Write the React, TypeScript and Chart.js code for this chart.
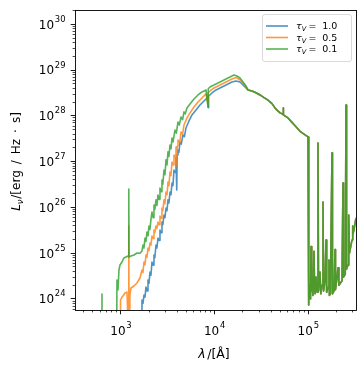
import React, { useEffect, useRef } from 'react';
import { Chart, registerables } from 'chart.js';

Chart.register(...registerables);

type Pt = [number, number];

// ---- data (wavelength in Å, L_nu in erg/Hz/s) ----
const seriesLabels = ['1.0', '0.5', '0.1'];
const seriesColors = ['rgba(31,119,180,0.8)', 'rgba(255,127,14,0.8)', 'rgba(44,160,44,0.8)'];
const xTickDecades = [3, 4, 5];
const yTickDecades = [24, 25, 26, 27, 28, 29, 30];
const xRange = [323, 3.23e5];
const yRange = [5.75e23, 2.05e30];

const blueHead: Pt[] = [
  [1640, 1e20], [1676, 9.5e23], [1718, 8e23], [1761, 1.22e24], [1805, 1.1e24], [1849, 1.83e24], [1900, 1.5e24],
  [1943, 2.6e24], [1991, 2.2e24], [2040, 3.89e24], [2090, 3.3e24], [2143, 6.43e24], [2200, 5.5e24], [2251, 9.14e24],
  [2300, 8.0e24], [2364, 1.51e25], [2420, 1.3e25], [2484, 2.15e25], [2550, 1.9e25], [2609, 3.22e25], [2680, 2.8e25],
  [2740, 4.81e25], [2800, 4.2e25], [2879, 6.84e25], [2950, 6.0e25], [3024, 9.7e25], [3100, 8.5e25], [3176, 1.46e26],
  [3250, 1.25e26], [3336, 2.17e26], [3420, 1.9e26], [3505, 3.42e26], [3590, 3.0e26], [3681, 6.58e26], [3780, 5.8e26],
  [3867, 1.2e27], [3940, 2.4e26], [3980, 1.4e27], [4062, 1.8e27], [4160, 1.6e27], [4266, 2.69e27], [4400, 2.4e27],
  [4593, 3.83e27], [4760, 3.5e27], [4945, 5.44e27], [5323, 7.73e27], [5731, 1.05e28], [6323, 1.35e28], [6976, 1.73e28],
  [7697, 2.11e28], [8492, 2.57e28], [8560, 1.5e28], [8620, 2.7e28], [9370, 3.16e28], [10338, 3.68e28], [11406, 4.07e28],
  [12584, 4.5e28], [13884, 4.97e28], [15318, 5.5e28], [16900, 5.78e28], [18653, 5.5e28], [20088, 4.73e28], [21614, 4.07e28],
];

const orangeHead: Pt[] = [
  [976, 1e20], [990, 9.5e23], [1025, 1.1e24], [1050, 1.16e24], [1103, 1.35e24], [1159, 1.42e24], [1180, 5e23],
  [1205, 6e23], [1212, 3.93e25], [1219, 6e23], [1245, 1.2e24], [1279, 1.74e24], [1377, 1.92e24], [1482, 2.24e24],
  [1596, 2.88e24], [1676, 4.3e24], [1718, 3.8e24], [1761, 6.43e24], [1805, 5.6e24], [1849, 9.14e24], [1895, 8.2e24],
  [1943, 1.3e25], [1991, 1.15e25], [2040, 1.67e25], [2090, 1.5e25], [2143, 2.38e25], [2200, 2.1e25], [2251, 3.22e25],
  [2300, 2.8e25], [2364, 3.93e25], [2420, 3.5e25], [2484, 4.81e25], [2550, 4.2e25], [2609, 6.5e25], [2680, 5.8e25],
  [2740, 9.7e25], [2800, 8.5e25], [2879, 1.46e26], [2950, 1.2e26], [3024, 2.17e26], [3100, 1.9e26], [3176, 3.6e26],
  [3250, 3.0e26], [3336, 5.95e26], [3420, 5.0e26], [3505, 9.84e26], [3600, 8.5e26], [3681, 1.4e27], [3780, 1.25e27],
  [3867, 2.09e27], [3950, 8.0e26], [3990, 2.2e27], [4062, 2.97e27], [4250, 2.6e27], [4373, 4.45e27], [4550, 4.0e27],
  [4707, 6.32e27], [5068, 8.99e27], [5456, 1.16e28], [6020, 1.56e28], [6642, 2.01e28], [7328, 2.46e28], [8085, 3.01e28],
  [8492, 1.8e28], [8550, 3.2e28], [8920, 3.5e28], [9842, 4.07e28], [10859, 4.5e28], [11980, 4.97e28], [13218, 5.5e28],
  [14583, 6.08e28], [15318, 6.4e28], [16900, 6.9e28], [18653, 6.08e28], [20088, 5.23e28], [21614, 4.28e28],
];

const greenHead: Pt[] = [
  [620, 1e20], [627, 1.29e24], [634, 1e20], [884, 1e20], [906, 2.6e24], [929, 1.57e24], [952, 4.3e24], [976, 5.53e24],
  [1025, 6.43e24], [1076, 7.87e24], [1131, 8.27e24], [1188, 8.69e24], [1205, 8.3e24], [1212, 2.53e26], [1219, 8.3e24],
  [1279, 8.69e24], [1377, 9.14e24], [1482, 1.01e25], [1596, 1.0e25], [1676, 1.12e25], [1718, 1.51e25], [1761, 1.3e25],
  [1805, 2.15e25], [1849, 1.8e25], [1895, 2.91e25], [1943, 2.4e25], [1991, 3.9e25], [2040, 3.3e25], [2090, 5.5e25],
  [2143, 7.95e25], [2200, 6.0e25], [2251, 1.13e26], [2300, 9.0e25], [2364, 1.46e26], [2420, 1.1e26], [2484, 1.87e26],
  [2550, 1.5e26], [2609, 2.66e26], [2680, 2.2e26], [2740, 3.98e26], [2800, 3.2e26], [2879, 6.58e26], [2950, 5.2e26],
  [3024, 1.09e27], [3100, 8.5e26], [3176, 1.63e27], [3250, 1.3e27], [3336, 2.31e27], [3420, 1.9e27], [3505, 3.29e27],
  [3600, 2.7e27], [3773, 4.92e27], [3900, 4.2e27], [4062, 7.35e27], [4200, 6.3e27], [4373, 9.46e27], [4550, 8.3e27],
  [4707, 1.22e28], [4850, 1.1e28], [5068, 1.49e28], [5456, 1.82e28], [6020, 2.34e28], [6642, 2.86e28], [7328, 3.33e28],
  [8085, 3.68e28], [8492, 1.56e28], [8550, 3.9e28], [8920, 4.28e28], [9842, 4.73e28], [10859, 5.23e28], [11980, 5.78e28],
  [13218, 6.39e28], [14583, 7.07e28], [16090, 7.82e28], [17322, 7.43e28], [18653, 6.72e28], [20088, 5.5e28], [21614, 4.5e28],
];

// part of the spectrum where all three curves coincide
const sharedTail: Pt[] = [
  [22711, 3.68e28], [25056, 3.5e28], [27650, 3.2e28], [30502, 2.86e28], [33651, 2.5e28], [37126, 2.2e28],
  [40962, 1.85e28], [45190, 1.4e28], [49860, 1.16e28], [53700, 1.08e28], [54000, 1.49e28], [54400, 1.05e28],
  [60700, 9.0e27], [66990, 7.2e27], [73900, 5.8e27], [81540, 4.6e27], [89970, 4.0e27], [99270, 3.46e27],
  [100300, 7.4e23], [101700, 9.5e23], [104300, 2.0e24], [105500, 1.0e24], [106900, 1.4e25], [108000, 1.5e24],
  [109500, 3.0e24], [112000, 1.2e24], [115000, 1.1e25], [116500, 2.0e24], [118000, 1.3e24], [120900, 3.0e24],
  [124000, 1.4e24], [126900, 2.56e27], [128500, 1.5e24], [133300, 3.9e24], [136000, 1.3e24], [140100, 2.0e24],
  [143500, 1.31e26], [145500, 1.5e24], [150800, 2.5e24], [154500, 1.95e25], [157000, 1.4e24], [162300, 1.8e24],
  [166300, 7.1e24], [168000, 1.2e24], [172000, 1.3e24], [179100, 1.55e27], [181000, 1.3e24], [188100, 1.5e24],
  [192800, 1.2e25], [195000, 1.6e24], [207600, 4.8e24], [212000, 2.0e24], [229000, 2.5e24], [234700, 3.4e26],
  [237500, 3.0e24], [248000, 3.5e24], [252700, 1.73e28], [256000, 4.5e24], [265400, 5.5e24], [270000, 6.8e25],
  [275000, 1.0e25], [292800, 1.95e25], [296000, 3.9e25], [300000, 2.5e25], [307500, 3.3e25], [323000, 5.9e25],
  [340000, 1.0e26],
];

const FONT = '"DejaVu Sans", "Liberation Sans", sans-serif';
const TICK_PX = 12;
const SUP_PX = 8.4;

function drawPower(ctx: CanvasRenderingContext2D, exp: string, x: number, baseline: number, align: 'center' | 'right') {
  ctx.font = `${TICK_PX}px ${FONT}`;
  const w1 = ctx.measureText('10').width;
  ctx.font = `${SUP_PX}px ${FONT}`;
  const w2 = ctx.measureText(exp).width;
  const gap = 0.8;
  const total = w1 + w2 + gap;
  const start = align === 'center' ? x - total / 2 : x - total;
  ctx.textAlign = 'left';
  ctx.textBaseline = 'alphabetic';
  ctx.font = `${TICK_PX}px ${FONT}`;
  ctx.fillText('10', start, baseline);
  ctx.font = `${SUP_PX}px ${FONT}`;
  ctx.fillText(exp, start + w1 + gap, baseline - 6.8);
}

const mplPlugin = {
  id: 'mplAxes',
  afterDraw(chart: any) {
    const { ctx, chartArea: a, scales } = chart;
    const xs = scales.x;
    const ys = scales.y;
    ctx.save();
    ctx.fillStyle = '#000';
    ctx.strokeStyle = '#000';

    // ticks
    const snap = (v: number) => Math.round(v) + 0.5;
    const xMinD = Math.floor(Math.log10(xs.min));
    const xMaxD = Math.ceil(Math.log10(xs.max));
    for (let d = xMinD; d <= xMaxD; d++) {
      for (let m = 1; m < 10; m++) {
        const v = m * Math.pow(10, d);
        if (v < xs.min || v > xs.max) continue;
        const px = snap(xs.getPixelForValue(v) - 0.5);
        const major = m === 1;
        ctx.lineWidth = major ? 0.9 : 0.7;
        ctx.beginPath();
        ctx.moveTo(px, a.bottom);
        ctx.lineTo(px, a.bottom + (major ? 4.3 : 2.4));
        ctx.stroke();
      }
    }
    const yMinD = Math.floor(Math.log10(ys.min));
    const yMaxD = Math.ceil(Math.log10(ys.max));
    for (let d = yMinD; d <= yMaxD; d++) {
      for (let m = 1; m < 10; m++) {
        const v = m * Math.pow(10, d);
        if (v < ys.min || v > ys.max) continue;
        const py = snap(ys.getPixelForValue(v) - 0.5);
        const major = m === 1;
        ctx.lineWidth = major ? 0.9 : 0.7;
        ctx.beginPath();
        ctx.moveTo(a.left, py);
        ctx.lineTo(a.left - (major ? 4.3 : 2.4), py);
        ctx.stroke();
      }
    }

    // frame
    ctx.lineWidth = 0.9;
    ctx.strokeRect(snap(a.left - 0.5), snap(a.top - 0.5), Math.round(a.right - a.left), Math.round(a.bottom - a.top));

    // tick labels
    for (const d of xTickDecades) {
      const px = xs.getPixelForValue(Math.pow(10, d));
      drawPower(ctx, String(d), px, a.bottom + 25, 'center');
    }
    for (const d of yTickDecades) {
      const py = ys.getPixelForValue(Math.pow(10, d));
      drawPower(ctx, String(d), a.left - 9.5, py + 4.3, 'right');
    }

    // x label: λ/[Å]
    {
      const fs = 12.5;
      ctx.font = `italic ${fs}px ${FONT}`;
      const w1 = ctx.measureText('λ').width + 1.5;
      ctx.font = `${fs}px ${FONT}`;
      const w2 = ctx.measureText('/[Å]').width;
      const cx = (a.left + a.right) / 2 - 1.5;
      const start = cx - (w1 + w2) / 2;
      ctx.textAlign = 'left';
      ctx.font = `italic ${fs}px ${FONT}`;
      ctx.fillText('λ', start, 357.5);
      ctx.font = `${fs}px ${FONT}`;
      ctx.fillText('/[Å]', start + w1, 357.5);
    }

    // y label: L_ν/[erg / Hz · s]
    {
      const fs = 12;
      ctx.save();
      ctx.translate(20, (a.top + a.bottom) / 2 + 1.5);
      ctx.rotate(-Math.PI / 2);
      ctx.font = `italic ${fs}px ${FONT}`;
      const wL = ctx.measureText('L').width;
      ctx.font = `italic ${fs * 0.7}px ${FONT}`;
      const wN = ctx.measureText('ν').width;
      ctx.font = `${fs}px ${FONT}`;
      const rest = '/[erg\u2002/\u2002Hz\u2002·\u2002s]';
      const wR = ctx.measureText(rest).width;
      const total = wL + wN + 0.8 + wR;
      let x0 = -total / 2;
      ctx.textAlign = 'left';
      ctx.font = `italic ${fs}px ${FONT}`;
      ctx.fillText('L', x0, 0);
      x0 += wL;
      ctx.font = `italic ${fs * 0.7}px ${FONT}`;
      ctx.fillText('ν', x0, 2.5);
      x0 += wN + 0.8;
      ctx.font = `${fs}px ${FONT}`;
      ctx.fillText(rest, x0, 0);
      ctx.restore();
    }

    // legend
    {
      const bx = 262.5, by = 14.5, bw = 89, bh = 47;
      ctx.beginPath();
      (ctx as any).roundRect(bx, by, bw, bh, 2.5);
      ctx.fillStyle = 'rgba(255,255,255,0.8)';
      ctx.fill();
      ctx.strokeStyle = 'rgba(204,204,204,0.8)';
      ctx.lineWidth = 0.9;
      ctx.stroke();
      const rows = [26, 37.5, 49];
      seriesLabels.forEach((lab, i) => {
        const ry = rows[i];
        ctx.strokeStyle = seriesColors[i];
        ctx.lineWidth = 1.6;
        ctx.beginPath();
        ctx.moveTo(266, ry);
        ctx.lineTo(288, ry);
        ctx.stroke();
        ctx.fillStyle = '#000';
        ctx.textAlign = 'left';
        ctx.textBaseline = 'alphabetic';
        let tx = 296;
        const base = ry + 3.3;
        ctx.font = `italic 9.5px ${FONT}`;
        ctx.fillText('τ', tx, base);
        tx += ctx.measureText('τ').width;
        ctx.font = `italic 6.6px ${FONT}`;
        ctx.fillText('V', tx, base + 1.8);
        tx += ctx.measureText('V').width + 2.2;
        ctx.font = `9.5px ${FONT}`;
        ctx.fillText('=', tx, base);
        tx += ctx.measureText('=').width + 2.8;
        ctx.fillText(' ' + lab, tx, base);
      });
    }
    ctx.restore();
  },
};

export default function App() {
  const ref = useRef<HTMLCanvasElement | null>(null);
  useEffect(() => {
    const canvas = ref.current;
    if (!canvas) return;
    const heads = [blueHead, orangeHead, greenHead];
    const datasets = heads.map((head, i) => ({
      label: seriesLabels[i],
      data: head.concat(sharedTail).map(([x, y]) => ({ x, y })),
      borderColor: seriesColors[i],
      backgroundColor: seriesColors[i],
      borderWidth: 1.6,
      pointRadius: 0,
      tension: 0,
      fill: false,
      borderJoinStyle: 'round' as const,
      order: 3 - i,
    }));
    const chart = new Chart(canvas, {
      type: 'line',
      data: { datasets },
      options: {
        responsive: false,
        animation: false,
        devicePixelRatio: 1,
        layout: { padding: { left: 75, top: 10, right: 8, bottom: 62 } },
        plugins: { legend: { display: false }, tooltip: { enabled: false } },
        scales: {
          x: { type: 'logarithmic', min: xRange[0], max: xRange[1], display: false },
          y: { type: 'logarithmic', min: yRange[0], max: yRange[1], display: false },
        },
      },
      plugins: [mplPlugin],
    });
    return () => chart.destroy();
  }, []);
  return (
    <div style={{ position: 'absolute', left: 0, top: 0, width: 364, height: 372, background: '#fff' }}>
      <canvas ref={ref} width={364} height={372} style={{ display: 'block' }} />
    </div>
  );
}
